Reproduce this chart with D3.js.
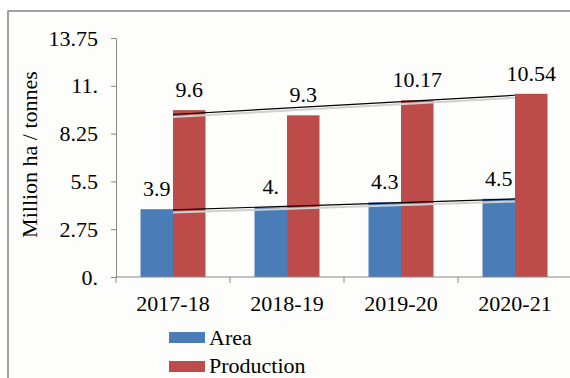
<!DOCTYPE html>
<html>
<head>
<meta charset="utf-8">
<script src="https://cdn.jsdelivr.net/npm/d3@7"></script>
<style>
  html, body { margin: 0; padding: 0; background: #ffffff; }
  svg { display: block; }
  text { font-family: "Liberation Serif", "Times New Roman", serif; fill: #000; }
</style>
</head>
<body>
<svg id="chart" width="570" height="378"></svg>
<script>
// Seasons on the x axis
const categories = ["2017-18", "2018-19", "2019-20", "2020-21"];
// Series names
const seriesNames = ["Area", "Production"];
// Area (million ha) and production (million tonnes)
const areaValues = [3.9, 4.0, 4.3, 4.5];
const productionValues = [9.6, 9.3, 10.17, 10.54];
// Value labels as printed above the bars
const areaLabels = ["3.9", "4.", "4.3", "4.5"];
const productionLabels = ["9.6", "9.3", "10.17", "10.54"];
// Y axis ticks and their printed labels
const yTickValues = [0, 2.75, 5.5, 8.25, 11, 13.75];
const yTickLabels = ["0.", "2.75", "5.5", "8.25", "11.", "13.75"];
const yTitle = "Million ha / tonnes";

const colors = { Area: "#4a7cb8", Production: "#bc4b49" };
const axisColor = "#878787";
const fontSize = 22;

const svg = d3.select("#chart");

// Outer chart frame (extends past the right and bottom edges)
svg.append("rect")
  .attr("x", 8).attr("y", 11)
  .attr("width", 600).attr("height", 400)
  .attr("fill", "#fdfdfb")
  .attr("stroke", "#8a8a8a")
  .attr("stroke-width", 1.6);

const plot = { left: 116, top: 38, bottom: 277, step: 114 };

const x = d3.scaleBand()
  .domain(categories)
  .range([plot.left, plot.left + plot.step * categories.length])
  .paddingInner(0).paddingOuter(0);

const xs = d3.scaleBand()
  .domain(seriesNames)
  .range([0, x.bandwidth()])
  .paddingInner(0).paddingOuter(0.754);

const y = d3.scaleLinear()
  .domain([0, 13.75])
  .range([plot.bottom, plot.top]);

const series = [
  { name: "Area", values: areaValues, labels: areaLabels },
  { name: "Production", values: productionValues, labels: productionLabels }
];

// Y axis
const yAxis = svg.append("g")
  .attr("transform", `translate(${plot.left},0)`)
  .call(d3.axisLeft(y)
    .tickValues(yTickValues)
    .tickFormat((d, i) => yTickLabels[i])
    .tickSize(5)
    .tickSizeOuter(0)
    .tickPadding(13));
yAxis.select(".domain").attr("stroke", axisColor);
yAxis.selectAll(".tick line").attr("stroke", axisColor);
yAxis.selectAll(".tick text")
  .attr("font-size", fontSize)
  .attr("font-family", "Liberation Serif")
  .attr("fill", "#000");

// Bars
series.forEach(s => {
  svg.append("g").selectAll("rect")
    .data(s.values)
    .join("rect")
    .attr("x", (d, i) => x(categories[i]) + xs(s.name))
    .attr("y", d => y(d))
    .attr("width", xs.bandwidth())
    .attr("height", d => y(0) - y(d))
    .attr("fill", colors[s.name]);
});

// X axis with ticks at category boundaries
const xAxisG = svg.append("g").attr("transform", `translate(0,${plot.bottom})`);
xAxisG.append("line")
  .attr("x1", plot.left).attr("x2", 580)
  .attr("stroke", axisColor);
const boundaries = categories.map(c => x(c));
xAxisG.selectAll("line.tk")
  .data(boundaries)
  .join("line")
  .attr("class", "tk")
  .attr("x1", d => d).attr("x2", d => d)
  .attr("y1", 0).attr("y2", 6)
  .attr("stroke", axisColor);
xAxisG.selectAll("text")
  .data(categories)
  .join("text")
  .attr("x", d => x(d) + x.bandwidth() / 2)
  .attr("y", 34)
  .attr("text-anchor", "middle")
  .attr("font-size", fontSize)
  .text(d => d);

// Linear trend lines through category centres
function regression(vals) {
  const n = vals.length;
  const xm = d3.mean(vals, (d, i) => i);
  const ym = d3.mean(vals);
  const num = d3.sum(vals, (d, i) => (i - xm) * (d - ym));
  const den = d3.sum(vals, (d, i) => (i - xm) * (i - xm));
  const slope = num / den;
  const icpt = ym - slope * xm;
  return [[0, icpt], [n - 1, icpt + slope * (n - 1)]];
}
const cx = i => x(categories[i]) + x.bandwidth() / 2;

const defs = svg.append("defs");
defs.append("filter").attr("id", "soft")
  .append("feGaussianBlur").attr("stdDeviation", 0.6);

series.forEach(s => {
  const pts = regression(s.values);
  const line = d3.line().x(d => cx(d[0])).y(d => y(d[1]));
  // soft drop shadow under the trend line
  svg.append("path")
    .attr("d", line(pts))
    .attr("transform", "translate(0,2.5)")
    .attr("stroke", "#d0d0d0")
    .attr("stroke-width", 2)
    .attr("fill", "none")
    .attr("filter", "url(#soft)");
  svg.append("path")
    .attr("d", line(pts))
    .attr("stroke", "#000")
    .attr("stroke-width", 1.2)
    .attr("fill", "none");
});

// Value labels above bars
series.forEach(s => {
  svg.append("g").selectAll("text")
    .data(s.values)
    .join("text")
    .attr("x", (d, i) => x(categories[i]) + xs(s.name) + xs.bandwidth() / 2)
    .attr("y", d => y(d) - 13)
    .attr("text-anchor", "middle")
    .attr("font-size", fontSize)
    .text((d, i) => s.labels[i]);
});

// Y axis title
svg.append("text")
  .attr("transform", `translate(37,${(plot.top + plot.bottom) / 2 - 3}) rotate(-90)`)
  .attr("text-anchor", "middle")
  .attr("font-size", fontSize)
  .text(yTitle);

// Legend
const legend = svg.append("g");
seriesNames.forEach((name, i) => {
  legend.append("rect")
    .attr("x", 169).attr("y", 332 + i * 29)
    .attr("width", 36).attr("height", 11)
    .attr("fill", colors[name]);
  legend.append("text")
    .attr("x", 209).attr("y", 345 + i * 28)
    .attr("font-size", fontSize)
    .text(name);
});
</script>
</body>
</html>
